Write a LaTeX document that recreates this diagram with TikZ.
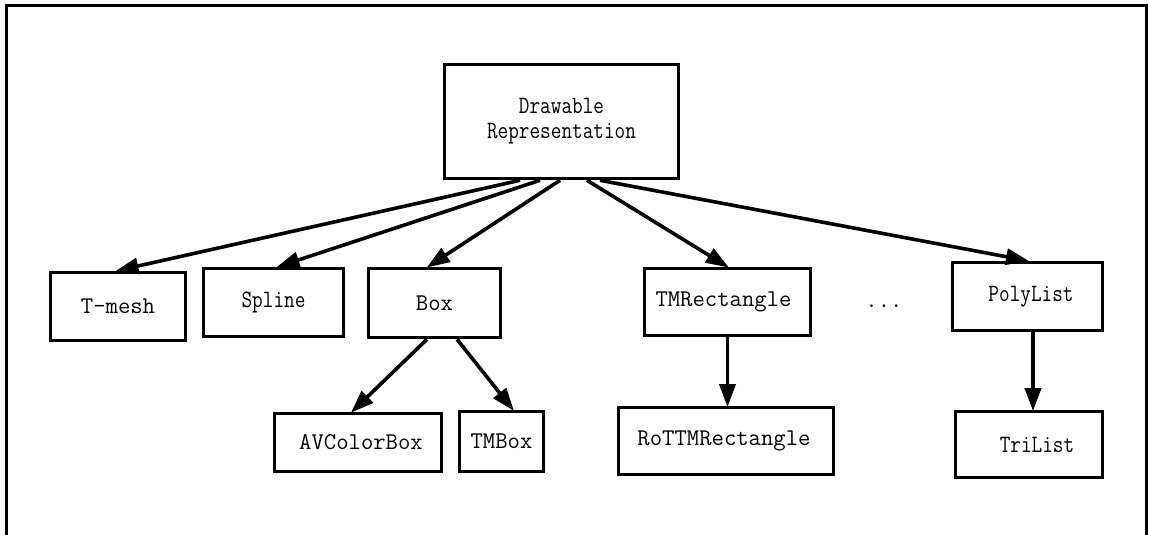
\documentclass[tikz,border=0pt]{standalone}
\usepackage{graphicx}
\usetikzlibrary{arrows.meta,calc}
\newcommand{\nrw}[1]{\scalebox{0.86}[1.04]{#1}}
\begin{document}
\begin{tikzpicture}[x=1pt,y=-1pt,
  cls/.style={draw, line width=3.6pt, rectangle, inner sep=0pt, align=center, font=\ttfamily\fontsize{24}{27}\selectfont},
  link/.style={line width=3.6pt, -{Triangle[length=23pt,width=16pt]}, shorten >=-1.5pt}]
\useasboundingbox (0,0) rectangle (1149,535);
\draw[line width=3.6pt] (6.5,535) -- (6.5,5.5) -- (1146.5,5.5) -- (1146.5,535);
\node[cls, minimum width=234pt, minimum height=114pt] (drw) at (561.5,121.5) {\nrw{Drawable}\\[-2pt]\nrw{Representation}};
\node[cls, minimum width=135pt, minimum height=68pt] (tmesh) at (118,306.5) {T-mesh};
\node[cls, minimum width=140pt, minimum height=68pt] (spline) at (273.5,302.5) {\nrw{Spline}};
\node[cls, minimum width=132pt, minimum height=69pt] (box) at (434.5,303) {Box};
\node[cls, minimum width=167pt, minimum height=58pt] (avc) at (358,442.5) {\hspace*{6pt}AVColorBox};
\node[cls, minimum width=84pt, minimum height=60pt] (tmbox) at (501.5,441.5) {TMBox};
\node[cls, minimum width=166pt, minimum height=67pt] (tmr) at (727.5,302) {TMRectangle\hspace*{8pt}};
\node[cls, minimum width=215pt, minimum height=67pt] (rottm) at (726,441) {RoTTMRectangle\hspace*{4pt}};
\node[cls, minimum width=150pt, minimum height=68pt] (poly) at (1027.5,296.5) {\hspace*{7pt}\nrw{PolyList}};
\node[cls, minimum width=147pt, minimum height=66pt] (tri) at (1029,444.5) {\hspace*{16pt}\nrw{TriList}};
\node[font=\ttfamily\fontsize{24}{27}\selectfont, inner sep=0pt] (dots) at (884,306) {...};
\draw[link] ([xshift=-41.5pt]drw.south) -- ([xshift=-1pt]tmesh.north);
\draw[link] ([xshift=-21.5pt]drw.south) -- ([xshift=4.5pt]spline.north);
\draw[link] ([xshift=-1.5pt]drw.south) -- ([xshift=-6.5pt]box.north);
\draw[link] ([xshift=25.5pt]drw.south) -- (tmr.north);
\draw[link] ([xshift=38.5pt]drw.south) -- (poly.north);
\draw[link] ([xshift=-7.5pt]box.south) -- ([xshift=-6pt]avc.north);
\draw[link] ([xshift=22.5pt]box.south) -- ([xshift=11.5pt]tmbox.north);
\draw[link] (tmr.south) -- (tmr.south |- rottm.north);
\draw[link] ([xshift=5.5pt]poly.south) -- ([xshift=5.5pt]poly.south |- tri.north);
\end{tikzpicture}
\end{document}
